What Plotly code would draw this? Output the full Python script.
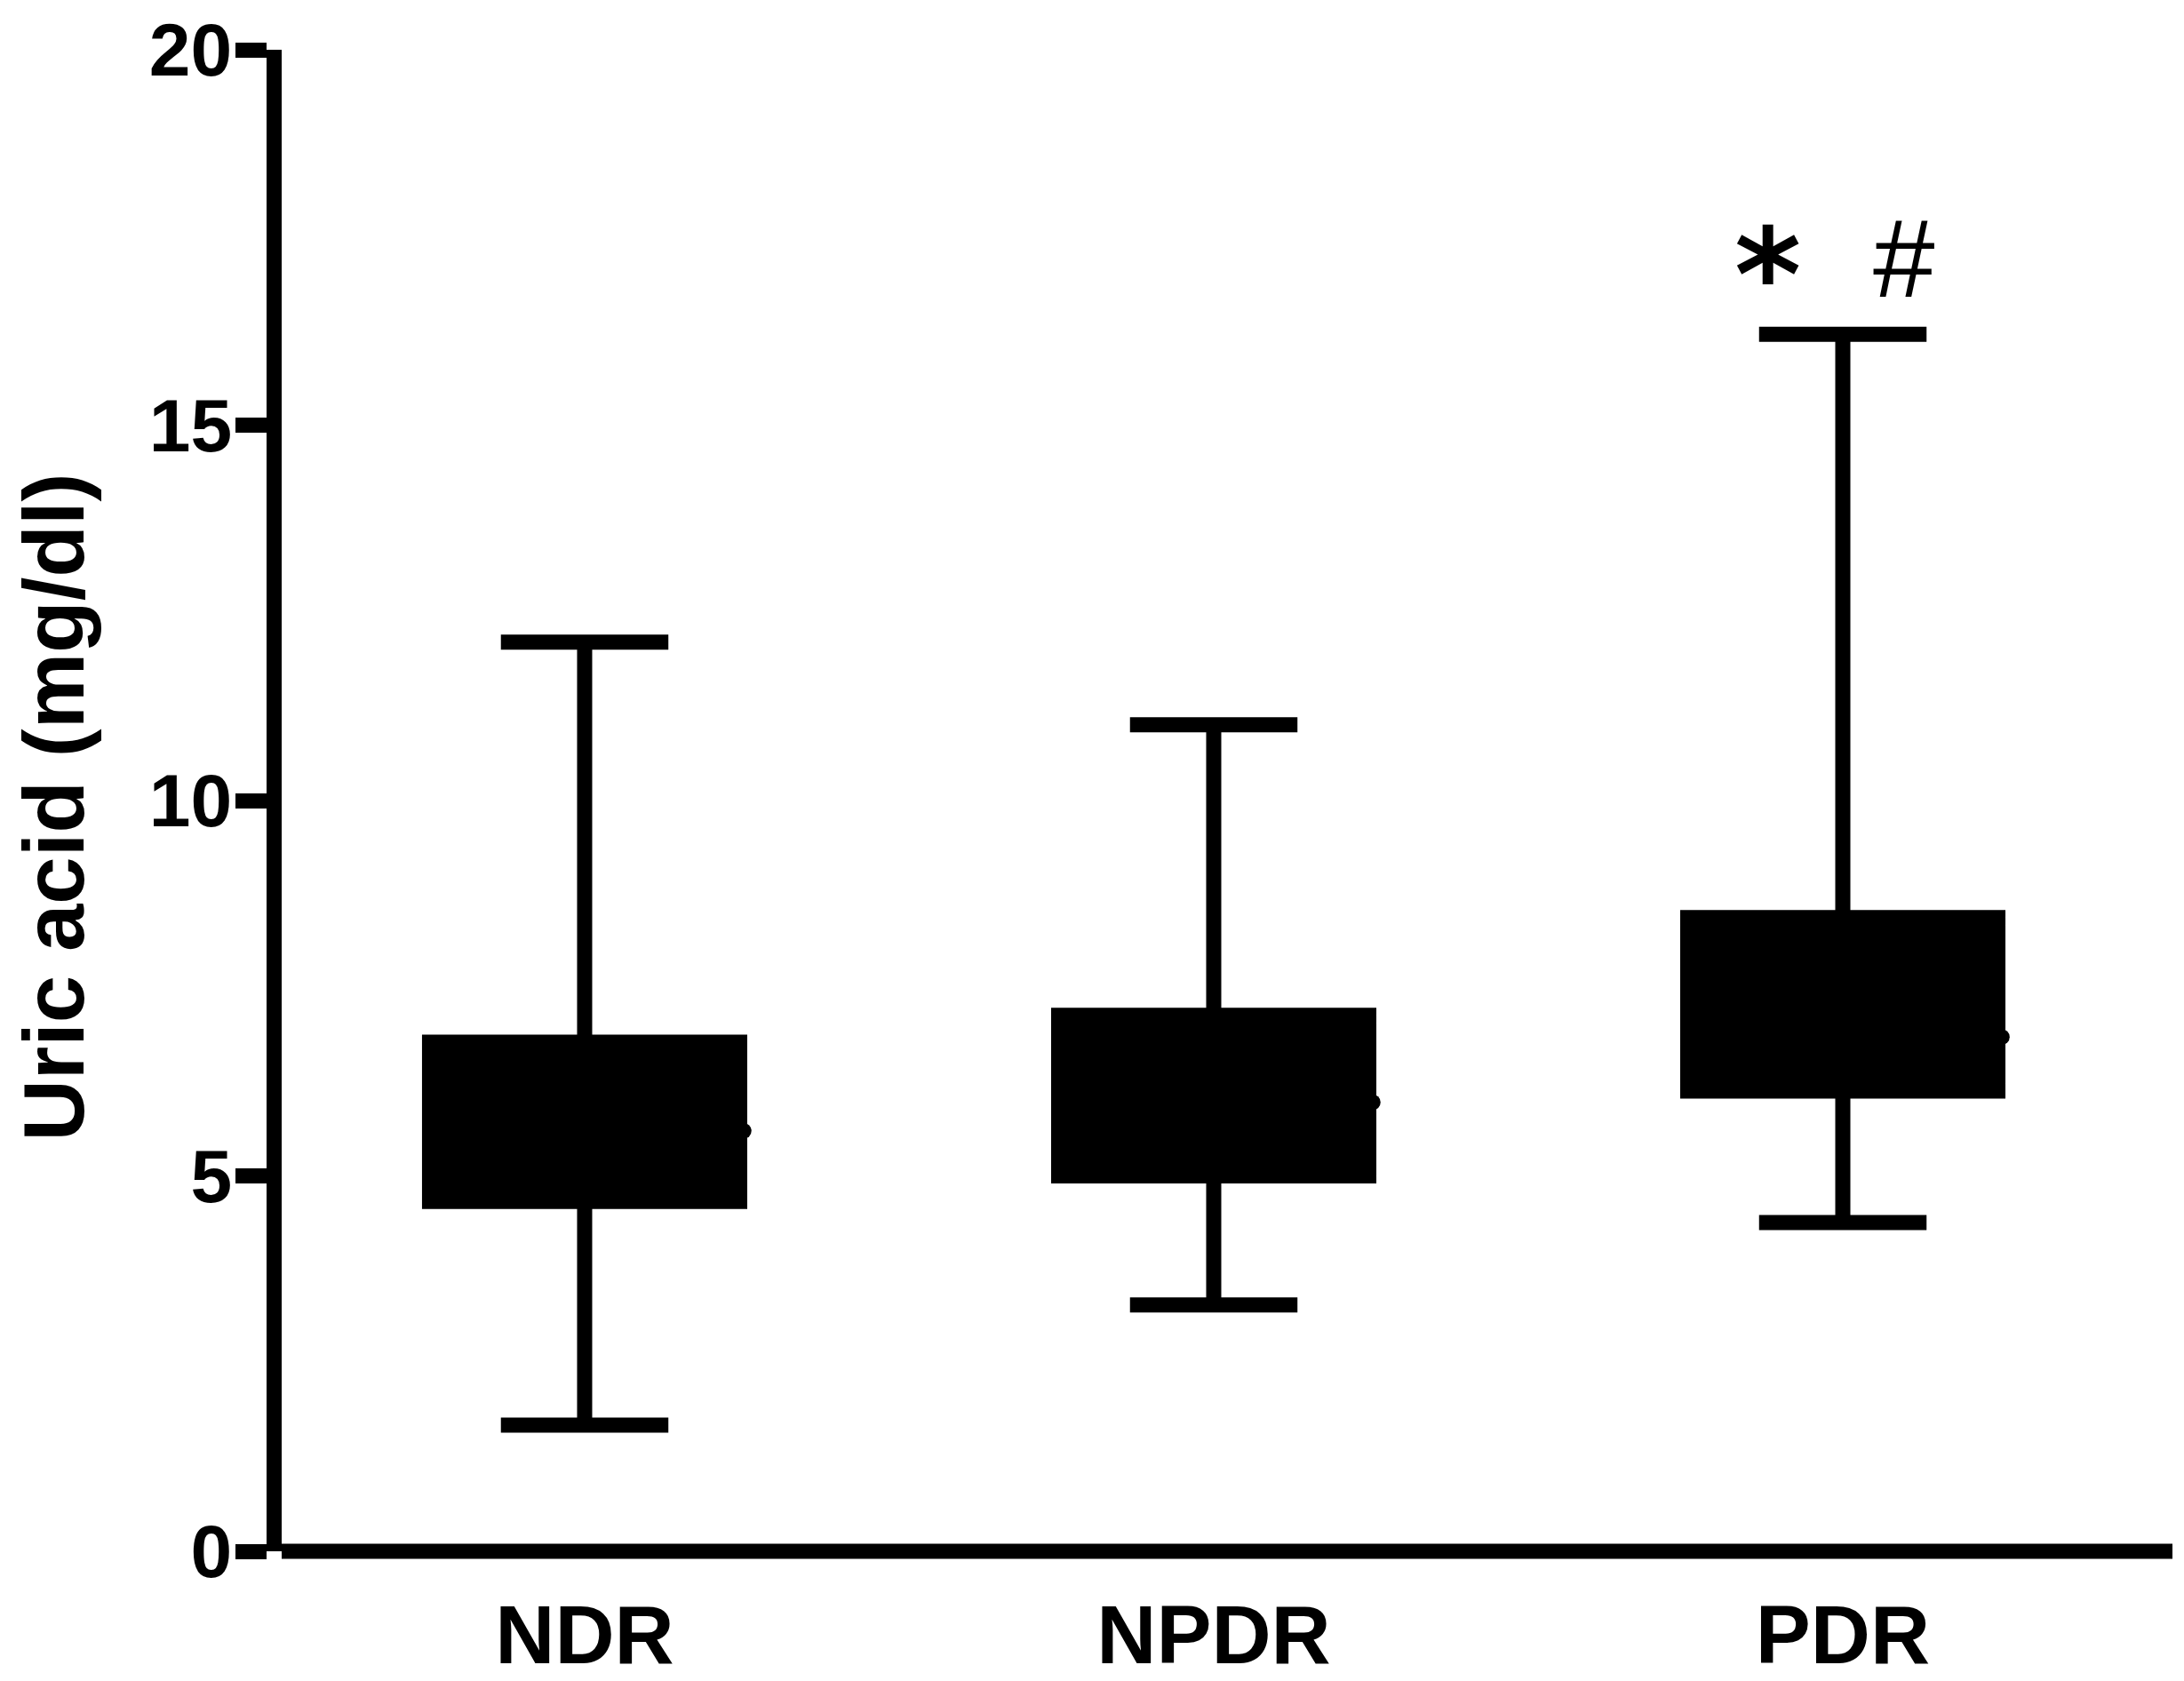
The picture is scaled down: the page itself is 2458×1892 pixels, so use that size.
import plotly.graph_objects as go

categories = ["NDR", "NPDR", "PDR"]
lower_whisker = [1.68, 3.28, 4.38]
q1_values = [4.66, 5.00, 6.13]
median_values = [5.60, 5.98, 6.85]
q3_values = [6.78, 7.14, 8.44]
upper_whisker = [12.11, 11.01, 16.21]
y_ticks = [0, 5, 10, 15, 20]
sig_marks = ["*", "#"]
y_title = "Uric acid (mg/dl)"

FONT = "Liberation Sans, Arial, sans-serif"
LW = 17
BOX_W = 0.493
positions = list(range(len(categories)))

fig = go.Figure()
fig.add_trace(go.Box(
    x=positions,
    q1=q1_values,
    median=median_values,
    q3=q3_values,
    lowerfence=lower_whisker,
    upperfence=upper_whisker,
    width=BOX_W,
    whiskerwidth=0.54,
    fillcolor="black",
    line=dict(color="black", width=LW),
    boxpoints=False,
    showlegend=False,
    hoverinfo="skip",
))

# round end of median line poking out at right edge of each box
fig.add_trace(go.Scatter(
    x=[p + BOX_W / 2 + 0.006 for p in positions],
    y=median_values,
    mode="markers",
    marker=dict(color="black", size=18, line=dict(width=0)),
    showlegend=False,
    hoverinfo="skip",
    cliponaxis=False,
))

# significance marks above PDR
fig.add_annotation(x=2 - 0.119, y=17.0, xref="x", yref="y", text=sig_marks[0],
                   showarrow=False,
                   font=dict(family="DejaVu Sans", size=144, color="black", weight="bold"),
                   xanchor="center", yanchor="middle")
fig.add_annotation(x=2 + 0.098, y=17.22, xref="x", yref="y", text=sig_marks[1],
                   showarrow=False, font=dict(family=FONT, size=125, color="black"),
                   xanchor="center", yanchor="middle")

# y-axis title
fig.add_annotation(x=-0.1205, y=0.4953, xref="paper", yref="paper", text=y_title,
                   textangle=-90, showarrow=False,
                   font=dict(family=FONT, size=96, color="black", weight="bold"),
                   xanchor="center", yanchor="middle")

# x axis line at y = 0 (paper bottom), drawn as a shape so it aligns with the 0 tick
fig.add_shape(type="line", xref="paper", yref="paper", x0=0, x1=1, y0=0, y1=0,
              line=dict(color="black", width=LW), layer="above")

fig.update_layout(
    width=2458, height=1892,
    paper_bgcolor="white", plot_bgcolor="white",
    margin=dict(l=317, r=13, t=56, b=146),
    font=dict(family=FONT, color="black"),
    xaxis=dict(
        range=[-0.4816, 2.524],
        tickvals=positions, ticktext=categories,
        showline=False, showgrid=False, zeroline=False,
        ticks="", tickfont=dict(family=FONT, size=93, color="black", weight="bold"),
        ticklabelstandoff=32,
        automargin=False,
    ),
    yaxis=dict(
        range=[0, 20],
        tickvals=y_ticks,
        showline=True, linecolor="black", linewidth=LW,
        showgrid=False, zeroline=False,
        ticks="outside", ticklen=35, tickwidth=LW, tickcolor="black",
        tickfont=dict(family=FONT, size=84, color="black", weight="bold"),
        ticklabelstandoff=-13,
        automargin=False,
    ),
)

fig.write_html("out.html", post_script="document.body.style.margin='0';",
               config={"displayModeBar": False})
